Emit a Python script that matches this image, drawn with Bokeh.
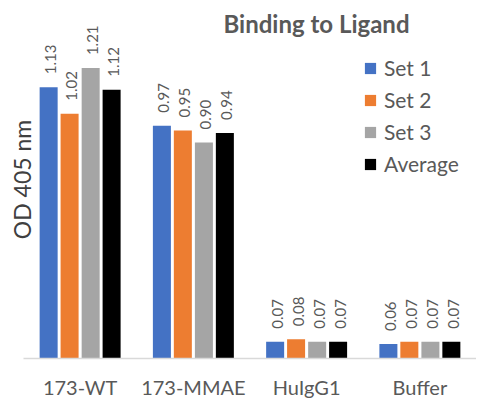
import math
from bokeh.plotting import figure
from bokeh.models import ColumnDataSource, Label, FactorRange, Range1d, Legend, LegendItem, Title
from bokeh.transform import dodge
from bokeh.core.properties import value
from bokeh.embed import file_html
from bokeh.resources import INLINE

categories = ["173-WT", "173-MMAE", "HuIgG1", "Buffer"]
series_names = ["Set 1", "Set 2", "Set 3", "Average"]
set1 = [1.13, 0.97, 0.07, 0.06]
set2 = [1.02, 0.95, 0.08, 0.07]
set3 = [1.21, 0.90, 0.07, 0.07]
average = [1.12, 0.94, 0.07, 0.07]
colors = ["#4472C4", "#ED7D31", "#A5A5A5", "#000000"]
offsets = [-0.278, -0.093, 0.093, 0.278]

FONT = "Lato"

p = figure(x_range=FactorRange(*categories), y_range=Range1d(0, 358 / 240.0),
           frame_width=453, frame_height=358, output_backend="svg", toolbar_location=None,
           min_border_left=23, min_border_right=0, min_border_top=0, min_border_bottom=37)

items = []
for name, vals, col, off in zip(series_names, [set1, set2, set3, average], colors, offsets):
    src = ColumnDataSource(dict(cat=categories, val=vals, lab=[f"{v:.2f}" for v in vals]))
    r = p.vbar(x=dodge("cat", off, range=p.x_range), top="val", width=0.159, source=src,
               fill_color=col, line_color=None)
    p.text(x=dodge("cat", off, range=p.x_range), y="val", text="lab", source=src,
           angle=math.pi / 2, text_align="left", text_baseline="middle",
           x_offset=2, y_offset=-13, text_font=value(FONT), text_font_size="15px",
           text_color="#595959")
    items.append(LegendItem(label=name, renderers=[r]))

legend = Legend(items=items, location=(340, 182), orientation="vertical",
                label_text_font=FONT, label_text_font_size="21px", label_text_color="#595959",
                glyph_width=14, glyph_height=14, label_height=25, label_standoff=7, spacing=7,
                padding=0, margin=0, border_line_color=None, background_fill_alpha=0)
p.add_layout(legend, "center")

p.add_layout(Label(x=293, y=335, x_units="screen", y_units="screen", text="Binding to Ligand",
                   text_font=FONT, text_font_style="bold", text_font_size="24px",
                   text_color="#595959", text_align="center", text_baseline="middle"))

# vertical axis title, as a side title (not clipped to the frame)
p.add_layout(Title(text="OD 405 nm", align="center", vertical_align="middle",
                   offset=17, standoff=-27, text_font=FONT, text_font_size="23px",
                   text_font_style="normal", text_color="#404040"), "left")

p.yaxis.visible = False
p.xgrid.visible = False
p.ygrid.visible = False
p.outline_line_color = None
p.xaxis.axis_line_color = "#D9D9D9"
p.xaxis.axis_line_width = 1.5
p.xaxis.major_tick_line_color = None
p.xaxis.minor_tick_line_color = None
p.xaxis.major_label_standoff = 10
p.xaxis.major_label_text_font = FONT
p.xaxis.major_label_text_font_size = "20px"
p.xaxis.major_label_text_color = "#595959"

open("out.html", "w").write(file_html(p, INLINE))
